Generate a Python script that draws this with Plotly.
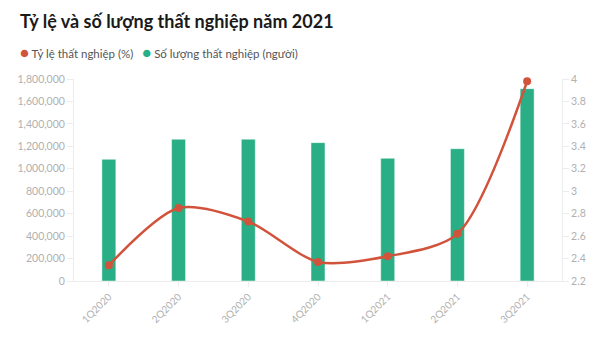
import plotly.graph_objects as go

categories = ["1Q2020", "2Q2020", "3Q2020", "4Q2020", "1Q2021", "2Q2021", "3Q2021"]
rate_pct = [2.34, 2.85, 2.73, 2.37, 2.42, 2.62, 3.98]
unemployed = [1084000, 1263000, 1263000, 1233000, 1093000, 1179000, 1714000]

name_rate = "Tỷ lệ thất nghiệp (%)"
name_count = "Số lượng thất nghiệp (người)"

RED = "#d2533b"
GREEN = "#2aae86"
FONT = "Lato, 'Open Sans', sans-serif"
TICK = "#b0b0b0"
AXIS = "#ececec"

fig = go.Figure()
fig.add_trace(go.Bar(
    x=categories, y=unemployed, name=name_count, showlegend=False,
    marker=dict(color=GREEN, line=dict(color="rgba(255,255,255,0.45)", width=1)),
    yaxis="y",
))
fig.add_trace(go.Scatter(
    x=categories, y=rate_pct, name=name_rate, showlegend=False,
    mode="lines+markers", line=dict(color=RED, width=2.5, shape="spline", smoothing=0.8),
    marker=dict(color=RED, size=8), yaxis="y2", cliponaxis=False,
))

legend_text = (
    f"<span style='color:{RED};font-size:15px'>●</span> {name_rate}"
    f"&nbsp;&nbsp;&nbsp;<span style='color:{GREEN};font-size:15px'>●</span> {name_count}"
)
fig.add_annotation(
    text=legend_text, xref="paper", yref="paper",
    x=(18 - 74) / 488, xanchor="left", y=1 + (79 - 52) / 202, yanchor="middle",
    showarrow=False, font=dict(family=FONT, size=11.5, color="#555"),
)

fig.update_layout(
    width=600, height=339,
    margin=dict(l=74, r=38, t=79, b=58),
    paper_bgcolor="white", plot_bgcolor="white",
    font=dict(family=FONT, color="#555", size=12),
    showlegend=False,
    title=dict(text="<b>Tỷ lệ và số lượng thất nghiệp năm 2021</b>",
               x=20 / 600, xanchor="left", xref="container",
               y=1 - 22 / 339, yanchor="middle", yref="container",
               font=dict(family=FONT, size=18, color="#1a1a1a")),
    bargap=0.8,
    xaxis=dict(
        type="category", showgrid=False, showline=True, linecolor=AXIS, linewidth=1,
        ticks="outside", ticklen=5, tickcolor=AXIS, tickangle=-45,
        tickfont=dict(family=FONT, size=10, color=TICK), zeroline=False,
    ),
    yaxis=dict(
        range=[0, 1800000], dtick=200000, tickformat=",", showgrid=False,
        showline=True, linecolor=AXIS, linewidth=1, ticks="outside", ticklen=6,
        tickcolor=AXIS, tickfont=dict(family=FONT, size=10.5, color=TICK), zeroline=False,
    ),
    yaxis2=dict(
        range=[2.2, 4.0], dtick=0.2, overlaying="y", side="right", showgrid=False,
        showline=True, linecolor=AXIS, linewidth=1, ticks="outside", ticklen=6,
        tickcolor=AXIS, tickfont=dict(family=FONT, size=10.5, color=TICK), zeroline=False,
    ),
)

fig.write_html("out.html")
